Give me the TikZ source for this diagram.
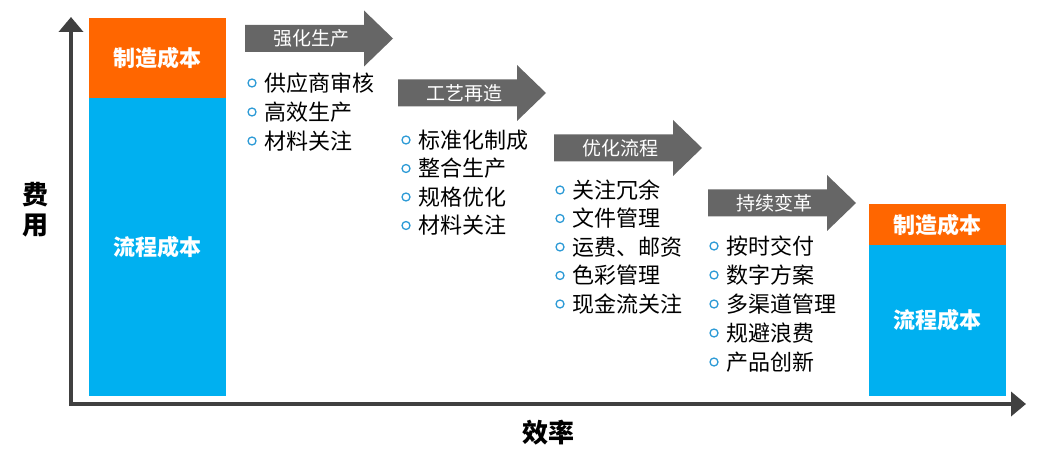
\documentclass[tikz,border=0pt]{standalone}
\usepackage{fontspec}
\setmainfont{Noto Sans CJK SC}
\usetikzlibrary{arrows.meta}
\definecolor{orangeC}{HTML}{FF6600}
\definecolor{blueC}{HTML}{00B0F0}
\definecolor{arrowC}{HTML}{666666}
\definecolor{axisC}{HTML}{404040}
\definecolor{bulletC}{HTML}{2E9BD6}
\tikzset{
  axisline/.style={draw=axisC, line width=4pt, -{Triangle[length=15pt,width=24pt]}},
  barlabel/.style={text=white, font=\fontsize{22}{22}\selectfont\bfseries, inner sep=0pt},
  axislabel/.style={text=black, font=\fontsize{26}{30}\selectfont\bfseries, inner sep=0pt, align=center},
  steparrow/.style={fill=arrowC, draw=none},
  steplabel/.style={text=white, font=\fontsize{19}{19}\selectfont, inner sep=0pt},
  item/.style={text=black, font=\fontsize{22}{22}\selectfont, inner sep=0pt, anchor=west},
  dot/.style={draw=bulletC, line width=1.3pt}
}
\newcommand{\steparr}[4]{% name, x, y center, label
  \fill[steparrow] (#2,#3-13.5) -- (#2+119,#3-13.5) -- (#2+119,#3-28) -- (#2+148,#3) -- (#2+119,#3+28) -- (#2+119,#3+13.5) -- (#2,#3+13.5) -- cycle;
  \node[steplabel] (#1) at (#2+66,#3) {#4};
}
\newcommand{\bul}[4]{% name, x, y, text
  \draw[dot] (#2,#3) circle (4);
  \node[item] (#1) at (#2+12,#3) {#4};
}
\begin{document}
\begin{tikzpicture}[x=1pt,y=-1pt]
\useasboundingbox (0,0) rectangle (1044,457);
% bars
\fill[orangeC] (89,18) rectangle (226,98);
\fill[blueC] (89,98) rectangle (226,396);
\node[barlabel] (lm) at (157,58) {制造成本};
\node[barlabel] (lp) at (157,247) {流程成本};
\fill[orangeC] (869,204) rectangle (1006,245);
\fill[blueC] (869,245) rectangle (1006,396);
\node[barlabel] (rm) at (937,225) {制造成本};
\node[barlabel] (rp) at (937,320) {流程成本};
% axes
\coordinate (o) at (71,404);
\coordinate (ytip) at (71,17);
\coordinate (xtip) at (1026,404);
\draw[axisline] ([yshift=-2pt]o) -- (ytip);
\draw[axisline] ([xshift=-2pt]o) -- (xtip);
\node[axislabel] (ylab) at (35,210) {费\\用};
\node[axislabel] (xlab) at (548,433) {效率};
% step arrows
\steparr{a1}{245}{38.5}{强化生产}
\steparr{a2}{398}{93}{工艺再造}
\steparr{a3}{554}{148}{优化流程}
\steparr{a4}{708}{203}{持续变革}
% lists
\bul{l11}{252}{83}{供应商审核}
\bul{l12}{252}{112}{高效生产}
\bul{l13}{252}{141}{材料关注}
\bul{l21}{406}{140}{标准化制成}
\bul{l22}{406}{168.5}{整合生产}
\bul{l23}{406}{197}{规格优化}
\bul{l24}{406}{225.5}{材料关注}
\bul{l31}{560}{190}{关注冗余}
\bul{l32}{560}{218.5}{文件管理}
\bul{l33}{560}{247}{运费、邮资}
\bul{l34}{560}{275.5}{色彩管理}
\bul{l35}{560}{304}{现金流关注}
\bul{l41}{714}{246}{按时交付}
\bul{l42}{714}{275}{数字方案}
\bul{l43}{714}{304}{多渠道管理}
\bul{l44}{714}{333}{规避浪费}
\bul{l45}{714}{362}{产品创新}
\end{tikzpicture}
\end{document}
